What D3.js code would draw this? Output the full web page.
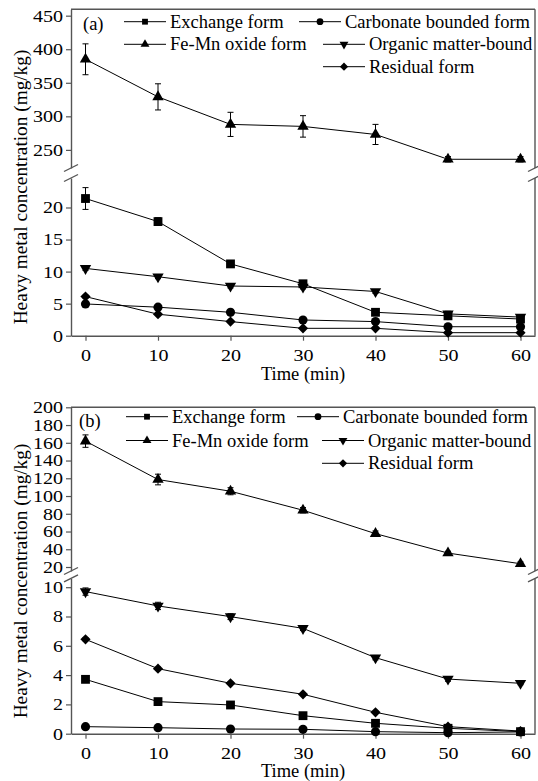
<!DOCTYPE html>
<html>
<head>
<meta charset="utf-8">
<script src="https://cdn.jsdelivr.net/npm/d3@7"></script>
<style>
  html, body { margin: 0; padding: 0; background: #fff; }
  text { font-family: "Liberation Serif", "Times New Roman", Times, "DejaVu Serif", serif; }
</style>
</head>
<body>
<svg id="chart" width="538" height="781"></svg>
<script>
// ---------------- data ----------------
const times = [0, 10, 20, 30, 40, 50, 60];
const xTicks = [0, 10, 20, 30, 40, 50, 60];
const seriesNames = ["Exchange form", "Carbonate bounded form", "Fe-Mn oxide form", "Organic matter-bound", "Residual form"];

// panel (a)
const aExchange = [21.4, 17.8, 11.2, 8.1, 3.65, 3.1, 2.6];
const aExchangeErr = [1.7, 0.6, 0.4, 0.3, 0.25, 0.2, 0.2];
const aCarbonate = [4.95, 4.45, 3.65, 2.45, 2.2, 1.4, 1.4];
const aCarbonateErr = [0.2, 0.2, 0.15, 0.15, 0.15, 0.1, 0.1];
const aFeMn = [385, 329, 288, 285, 273, 236, 236];
const aFeMnErr = [23, 19.5, 18, 16, 15, 4, 4];
const aOrganic = [10.5, 9.2, 7.75, 7.6, 6.9, 3.4, 2.9];
const aOrganicErr = [0.3, 0.3, 0.3, 0.3, 0.3, 0.4, 0.2];
const aResidual = [6.1, 3.35, 2.2, 1.15, 1.15, 0.47, 0.47];
const aResidualErr = [0.2, 0.15, 0.1, 0.1, 0.1, 0.05, 0.05];
const aUpperTicks = [250, 300, 350, 400, 450];
const aLowerTicks = [0, 5, 10, 15, 20];

// panel (b)
const bExchange = [3.71, 2.19, 1.96, 1.23, 0.71, 0.37, 0.14];
const bExchangeErr = [0.1, 0.08, 0.08, 0.05, 0.05, 0.03, 0.03];
const bCarbonate = [0.48, 0.41, 0.32, 0.30, 0.14, 0.07, 0.12];
const bCarbonateErr = [0.03, 0.03, 0.03, 0.03, 0.02, 0.02, 0.02];
const bFeMn = [161.9, 118.6, 105.4, 84, 57.6, 35.7, 23.7];
const bFeMnErr = [7, 6, 4, 3, 3, 2, 2];
const bOrganic = [9.7, 8.72, 7.99, 7.19, 5.19, 3.73, 3.44];
const bOrganicErr = [0.25, 0.25, 0.2, 0.15, 0.15, 0.15, 0.1];
const bResidual = [6.44, 4.44, 3.44, 2.69, 1.46, 0.48, 0.18];
const bResidualErr = [0.1, 0.1, 0.08, 0.08, 0.08, 0.05, 0.05];
const bUpperTicks = [20, 40, 60, 80, 100, 120, 140, 160, 180, 200];
const bLowerTicks = [0, 2, 4, 6, 8, 10];

// ---------------- drawing ----------------
const FONT = "'Liberation Serif', 'Times New Roman', Times, 'DejaVu Serif', serif";
const svg = d3.select("#chart");
const AX = "#555";
const TICK_FONT = 17, TICK_SX = 1.18;

const symTypes = {
  square: { type: d3.symbolSquare, rot: 0, size: 78, lsize: 34 },
  circle: { type: d3.symbolCircle, rot: 0, size: 66, lsize: 36 },
  up:     { type: d3.symbolTriangle, rot: 0, size: 56, lsize: 34 },
  down:   { type: d3.symbolTriangle, rot: 180, size: 56, lsize: 34 },
  diamond:{ type: d3.symbolSquare, rot: 45, size: 52, lsize: 34 }
};

function drawPanel(cfg) {
  const g = svg.append("g");
  const x = d3.scaleLinear().domain([-2, 62]).range([cfg.left, cfg.right]);
  const yU = d3.scaleLinear().domain(cfg.upperDomain).range(cfg.upperRange);
  const yL = d3.scaleLinear().domain(cfg.lowerDomain).range(cfg.lowerRange);

  // frame: top and right
  g.append("line").attr("x1", cfg.left).attr("x2", cfg.right).attr("y1", cfg.upperRange[1]).attr("y2", cfg.upperRange[1])
    .attr("stroke", AX).attr("stroke-width", 1.4);
  g.append("line").attr("x1", cfg.right).attr("x2", cfg.right).attr("y1", cfg.upperRange[1]).attr("y2", cfg.upperRange[0])
    .attr("stroke", AX).attr("stroke-width", 1.4);
  g.append("line").attr("x1", cfg.right).attr("x2", cfg.right).attr("y1", cfg.lowerRange[1]).attr("y2", cfg.lowerRange[0])
    .attr("stroke", AX).attr("stroke-width", 1.4);

  // left axes
  const styleY = (sel) => {
    sel.attr("font-family", FONT);
    sel.select(".domain").attr("stroke", AX).attr("stroke-width", 1.4);
    sel.selectAll(".tick line").attr("stroke", AX).attr("stroke-width", 1.2);
    sel.selectAll(".tick text").attr("fill", "#000").attr("font-size", TICK_FONT).attr("font-family", FONT)
      .attr("transform", `scale(${TICK_SX},1)`).attr("x", -8 / TICK_SX);
  };
  const axU = g.append("g").attr("transform", `translate(${cfg.left},0)`)
    .call(d3.axisLeft(yU).tickValues(cfg.upperTicks).tickSize(5).tickSizeOuter(0).tickFormat(d3.format("d")));
  styleY(axU);
  const axL = g.append("g").attr("transform", `translate(${cfg.left},0)`)
    .call(d3.axisLeft(yL).tickValues(cfg.lowerTicks).tickSize(5).tickSizeOuter(0).tickFormat(d3.format("d")));
  styleY(axL);

  // bottom axis
  const axX = g.append("g").attr("transform", `translate(0,${cfg.lowerRange[0]})`)
    .call(d3.axisBottom(x).tickValues(xTicks).tickSize(5).tickSizeOuter(0));
  axX.attr("font-family", FONT);
  axX.select(".domain").attr("stroke", AX).attr("stroke-width", 1.4);
  axX.selectAll(".tick line").attr("stroke", AX).attr("stroke-width", 1.2);
  axX.selectAll(".tick text").attr("fill", "#000").attr("font-size", TICK_FONT).attr("font-family", FONT)
    .attr("transform", `scale(${TICK_SX},1)`).attr("y", 25).attr("dy", null);

  // break marks
  [cfg.left, cfg.right].forEach(bx => {
    [cfg.upperRange[0], cfg.lowerRange[1]].forEach(by => {
      g.append("line").attr("x1", bx - 7).attr("y1", by + 3.5).attr("x2", bx + 7).attr("y2", by - 3.5)
        .attr("stroke", AX).attr("stroke-width", 1.3);
    });
  });

  // series
  cfg.series.forEach(s => {
    const ys = s.upper ? yU : yL;
    const pts = times.map((t, i) => ({ t, v: s.values[i], e: s.err[i] }));
    const line = d3.line().x(d => x(d.t)).y(d => ys(d.v));
    g.append("path").datum(pts).attr("d", line).attr("fill", "none").attr("stroke", "#000").attr("stroke-width", 1);
    const eb = g.append("g").attr("stroke", "#000").attr("stroke-width", 1);
    pts.forEach(d => {
      const y1 = ys(d.v + d.e), y2 = ys(d.v - d.e), cx = x(d.t);
      eb.append("line").attr("x1", cx).attr("x2", cx).attr("y1", y1).attr("y2", y2);
      eb.append("line").attr("x1", cx - 3).attr("x2", cx + 3).attr("y1", y1).attr("y2", y1);
      eb.append("line").attr("x1", cx - 3).attr("x2", cx + 3).attr("y1", y2).attr("y2", y2);
    });
    const st = symTypes[s.sym];
    g.append("g").selectAll("path").data(pts).join("path")
      .attr("d", d3.symbol().type(st.type).size(st.size))
      .attr("transform", d => `translate(${x(d.t)},${ys(d.v)}) rotate(${st.rot})`)
      .attr("fill", "#000");
  });

  // legend
  const L = cfg.legend;
  const legendItems = [
    { name: seriesNames[0], sym: "square", lx: L.c1, y: L.r1 },
    { name: seriesNames[1], sym: "circle", lx: L.c2, y: L.r1 },
    { name: seriesNames[2], sym: "up", lx: L.c1, y: L.r2 },
    { name: seriesNames[3], sym: "down", lx: L.c3, y: L.r2 },
    { name: seriesNames[4], sym: "diamond", lx: L.c3, y: L.r3 }
  ];
  legendItems.forEach(it => {
    const st = symTypes[it.sym];
    g.append("line").attr("x1", it.lx).attr("x2", it.lx + 42).attr("y1", it.y).attr("y2", it.y)
      .attr("stroke", "#000").attr("stroke-width", 1);
    g.append("path").attr("d", d3.symbol().type(st.type).size(st.lsize)())
      .attr("transform", `translate(${it.lx + 21},${it.y}) rotate(${st.rot})`).attr("fill", "#000");
    g.append("text").attr("x", it.lx + 46).attr("y", it.y + 6).attr("font-family", FONT)
      .attr("font-size", 18.5).attr("fill", "#000").text(it.name);
  });

  // panel label
  g.append("text").attr("x", cfg.labelX).attr("y", cfg.labelY).attr("font-family", FONT)
    .attr("font-size", 18.5).text(cfg.label);

  // axis titles
  g.append("text").attr("x", x(30)).attr("y", cfg.xTitleY).attr("text-anchor", "middle").attr("font-family", FONT)
    .attr("font-size", 18.5).text("Time (min)");
  g.append("text").attr("transform", `translate(${cfg.yTitleX},${cfg.yTitleY}) rotate(-90)`).attr("font-family", FONT)
    .attr("text-anchor", "middle").attr("font-size", 19.3).text("Heavy metal concentration (mg/kg)");
}

drawPanel({
  left: 71, right: 535,
  upperDomain: [223, 459.5], upperRange: [168, 9.3],
  lowerDomain: [0, 24.6], lowerRange: [335.7, 178],
  upperTicks: aUpperTicks, lowerTicks: aLowerTicks,
  series: [
    { values: aFeMn, err: aFeMnErr, sym: "up", upper: true },
    { values: aExchange, err: aExchangeErr, sym: "square" },
    { values: aCarbonate, err: aCarbonateErr, sym: "circle" },
    { values: aOrganic, err: aOrganicErr, sym: "down" },
    { values: aResidual, err: aResidualErr, sym: "diamond" }
  ],
  legend: { c1: 124, c2: 299, c3: 323, r1: 21.7, r2: 44.3, r3: 66.7 },
  label: "(a)", labelX: 83, labelY: 30,
  xTitleY: 379.5, yTitleX: 27, yTitleY: 187
});

drawPanel({
  left: 71, right: 535,
  upperDomain: [15.5, 200], upperRange: [571, 407.3],
  lowerDomain: [0, 10.6], lowerRange: [733.7, 578.4],
  upperTicks: bUpperTicks, lowerTicks: bLowerTicks,
  series: [
    { values: bFeMn, err: bFeMnErr, sym: "up", upper: true },
    { values: bExchange, err: bExchangeErr, sym: "square" },
    { values: bCarbonate, err: bCarbonateErr, sym: "circle" },
    { values: bOrganic, err: bOrganicErr, sym: "down" },
    { values: bResidual, err: bResidualErr, sym: "diamond" }
  ],
  legend: { c1: 126, c2: 297, c3: 322, r1: 416.7, r2: 440.5, r3: 463.3 },
  label: "(b)", labelX: 79, labelY: 427,
  xTitleY: 776.5, yTitleX: 27, yTitleY: 581
});
</script>
</body>
</html>
